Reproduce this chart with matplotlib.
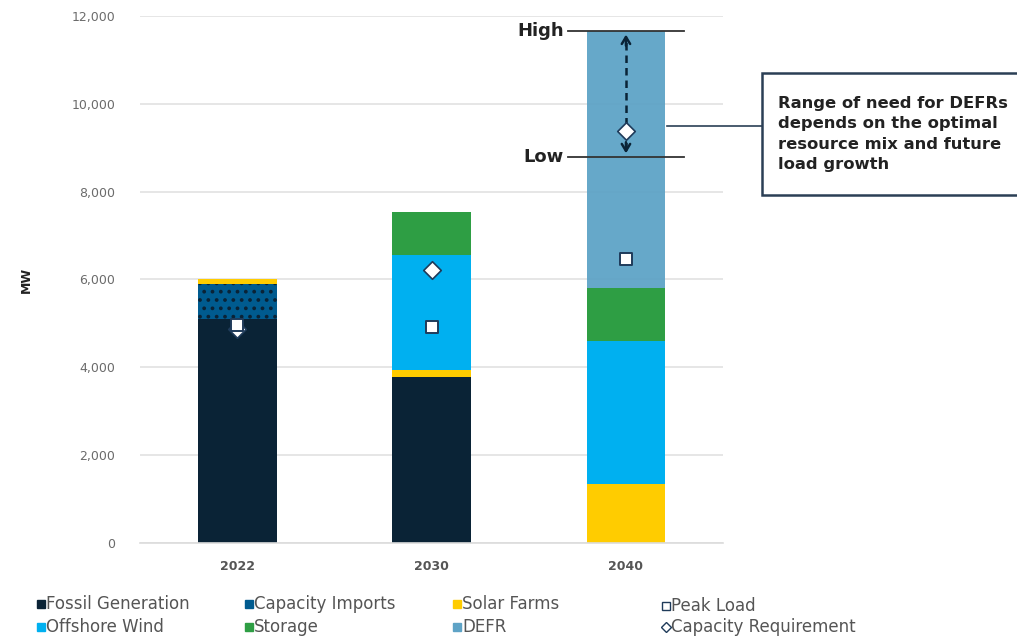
import matplotlib
matplotlib.use("Agg")
import matplotlib.pyplot as plt
import numpy as np
from matplotlib.patches import Rectangle
from matplotlib.lines import Line2D

years = ["2022", "2030", "2040"]
fossil = [5100, 3780, 0]
imports = [800, 0, 0]
solar = [110, 160, 1345]
offshore = [0, 2620, 3255]
storage = [0, 980, 1210]
defr = [0, 0, 5850]
peak_load = [4970, 4920, 6470]
cap_req = [4870, 6220, 9380]
defr_low = 8790
defr_high = 11660

C_FOSSIL = "#0a2336"
C_IMPORT = "#005b8f"
C_SOLAR = "#ffcc00"
C_WIND = "#00b0f0"
C_STORAGE = "#2e9e44"
C_DEFR = "#5ea3c6"
C_EDGE = "#1f3b5a"

plt.rcParams['hatch.linewidth'] = 1.5
fig = plt.figure(figsize=(10.17, 6.37), dpi=100)
ax = fig.add_axes([0.138, 0.1476, 0.573, 0.8273])
x = np.arange(len(years))
w = 0.405

ax.set_axisbelow(True)
ax.yaxis.grid(True, color="#e2e2e2", linewidth=1.2)
bottom = np.zeros(len(years))
ax.bar(x, fossil, w, bottom=bottom, color=C_FOSSIL, zorder=2)
bottom += fossil
ax.bar(x, imports, w, bottom=bottom, color=C_IMPORT, hatch="..", edgecolor="#0a2336", linewidth=0, zorder=2)
bottom += imports
ax.bar(x, solar, w, bottom=bottom, color=C_SOLAR, zorder=2)
bottom += solar
ax.bar(x, offshore, w, bottom=bottom, color=C_WIND, zorder=2)
bottom += offshore
ax.bar(x, storage, w, bottom=bottom, color=C_STORAGE, zorder=2)
bottom += storage
ax.bar(x, defr, w, bottom=bottom, color=C_DEFR, alpha=0.95, zorder=3)

ax.scatter(x, cap_req, marker="D", s=80, facecolor="white", edgecolor=C_EDGE, linewidth=1.2, zorder=5)
ax.scatter(x, peak_load, marker="s", s=80, facecolor="white", edgecolor=C_EDGE, linewidth=1.4, zorder=6)

ax.set_xlim(-0.5, 2.5)
ax.set_ylim(0, 12000)
ax.set_yticks(np.arange(0, 12001, 2000))
ax.set_yticklabels([f"{v:,}" for v in range(0, 12001, 2000)], color="#6b6b6b", fontsize=9)
ax.set_xticks(x)
ax.set_xticklabels(years, fontsize=9, fontweight="bold", color="#555555")
ax.tick_params(axis="y", length=0, pad=18)
ax.tick_params(axis="x", length=0, pad=12)
for s in ["top", "right", "left"]:
    ax.spines[s].set_visible(False)
ax.spines["bottom"].set_color("#dcdcdc")
ax.spines["bottom"].set_linewidth(1.2)
ax.set_ylabel("MW", fontsize=9, fontweight="bold", color="#222222", labelpad=28)

# High / Low range
xi = 2
ax.plot([xi - 0.3, xi + 0.3], [defr_high, defr_high], color="#333333", linewidth=1.3, zorder=6)
ax.plot([xi - 0.3, xi + 0.3], [defr_low, defr_low], color="#333333", linewidth=1.3, zorder=6)
ax.text(xi - 0.32, defr_high, "High", ha="right", va="center", fontsize=13, fontweight="bold", color="#222222")
ax.text(xi - 0.32, defr_low, "Low", ha="right", va="center", fontsize=13, fontweight="bold", color="#222222")
ax.plot([xi, xi], [defr_low + 150, defr_high - 150], color="#0a2336", linestyle=(0, (3, 2)), linewidth=1.8, zorder=4)
ax.annotate("", xy=(xi, defr_high - 20), xytext=(xi, defr_high - 400),
            arrowprops=dict(arrowstyle="->,head_length=0.5,head_width=0.3", color="#0a2336", lw=1.8), zorder=4)
ax.annotate("", xy=(xi, defr_low + 20), xytext=(xi, defr_low + 400),
            arrowprops=dict(arrowstyle="->,head_length=0.5,head_width=0.3", color="#0a2336", lw=1.8), zorder=4)

# Callout box
fig.add_artist(Line2D([667 / 1017, 762 / 1017], [1 - 126 / 637, 1 - 126 / 637], color="#2b3f55", linewidth=1.2))
fig.add_artist(Rectangle((762 / 1017, 1 - 195 / 637), 260 / 1017, 122 / 637, facecolor="white",
                         edgecolor="#2b3f55", linewidth=1.8))
fig.text(778 / 1017, 1 - 134 / 637, "Range of need for DEFRs\ndepends on the optimal\nresource mix and future\nload growth",
         ha="left", va="center", fontsize=11.8, fontweight="bold", color="#222222", linespacing=1.42)

# Legend
items = [
    ("Fossil Generation", "s", C_FOSSIL, C_FOSSIL, 37, 604),
    ("Capacity Imports", "s", C_IMPORT, C_IMPORT, 245, 604),
    ("Solar Farms", "s", C_SOLAR, C_SOLAR, 453, 604),
    ("Peak Load", "s", "white", C_EDGE, 662, 606),
    ("Offshore Wind", "s", C_WIND, C_WIND, 37, 627),
    ("Storage", "s", C_STORAGE, C_STORAGE, 245, 627),
    ("DEFR", "s", C_DEFR, C_DEFR, 453, 627),
    ("Capacity Requirement", "D", "white", C_EDGE, 662, 627),
]
for label, mk, fc, ec, px, py in items:
    fx, fy = px / 1017, 1 - py / 637
    ms = 6 if mk == "s" else 5
    fig.add_artist(Line2D([fx + 4 / 1017], [fy], marker=mk, markersize=ms, markerfacecolor=fc,
                          markeredgecolor=ec, markeredgewidth=1.0, linestyle="none"))
    fig.text(fx + 9 / 1017, fy, label, ha="left", va="center", fontsize=12, color="#555555")

fig.savefig("out.png", dpi=100)
